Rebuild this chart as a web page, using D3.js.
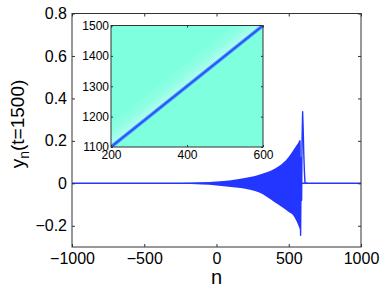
<!DOCTYPE html>
<html>
<head>
<meta charset="utf-8">
<script src="https://cdn.jsdelivr.net/npm/d3@7"></script>
<style>
body { margin: 0; background: #fff; }
text { font-family: "Liberation Sans", Arial, Helvetica, sans-serif; fill: #000; }
</style>
</head>
<body>
<svg id="chart" width="382" height="289"></svg>
<script>
// envelope of the oscillating tail
var envN     = [-1000, -400, -250, -100, 0, 100, 232, 300, 405, 450, 500, 530, 555, 570, 578];
var envUpper = [0, 0, 0.002, 0.005, 0.009, 0.015, 0.03, 0.042, 0.07, 0.09, 0.125, 0.155, 0.18, 0.195, 0.2];
var envLower = [0, 0, -0.002, -0.006, -0.01, -0.017, -0.03, -0.045, -0.09, -0.11, -0.135, -0.15, -0.18, -0.205, -0.22];

// zero level over the whole chain
var baseN = [-1000, 1000];
var baseY = [0, 0];

// leading front
var frontN = [572, 575, 578, 582, 586, 589, 592, 596, 600, 604, 608, 612, 616, 630];
var frontY = [0.18, 0.2, 0.2, -0.245, 0.12, -0.08, 0.2, 0.337, 0.25, 0.14, 0.06, 0.005, 0, 0];

var xTicks = [-1000, -500, 0, 500, 1000];
var yTicks = [-0.2, 0, 0.2, 0.4, 0.6, 0.8];

// inset: front trajectory n(t)
var insetN = [200, 600];
var insetT = [1100, 1500];
var insetXTicks = [200, 400, 600];
var insetYTicks = [1100, 1200, 1300, 1400, 1500];
var stripeOffsets = [7, 12, 17, 22, 27, 33, 39, 46, 54, 63, 73];
var stripeAlpha   = [1, 0.75, 0.7, 0.65, 0.6, 0.55, 0.5, 0.45, 0.4, 0.35, 0.3];

var svg = d3.select("#chart");
var pLeft = 72, pRight = 361, pTop = 13.5, pBottom = 247;

var x = d3.scaleLinear().domain([-1000, 1000]).range([pLeft, pRight]);
var y = d3.scaleLinear().domain([-0.3, 0.8]).range([pBottom, pTop]);

var lineColor = "#2236ff";
var axisColor = "#333";

var line = d3.line()
    .x(function(d) { return x(d[0]); })
    .y(function(d) { return y(d[1]); });

svg.append("path")
    .datum(d3.zip(baseN, baseY))
    .attr("d", line)
    .attr("fill", "none")
    .attr("stroke", lineColor)
    .attr("stroke-width", 1.4);

// filled envelope
var area = d3.area()
    .x(function(d, i) { return x(envN[i]); })
    .y0(function(d, i) { return y(envLower[i]); })
    .y1(function(d, i) { return y(envUpper[i]); })
    .curve(d3.curveMonotoneX);
svg.append("path")
    .datum(envN)
    .attr("d", area)
    .attr("fill", lineColor);

svg.append("path")
    .datum(d3.zip(frontN, frontY))
    .attr("d", line)
    .attr("fill", "none")
    .attr("stroke", lineColor)
    .attr("stroke-width", 1.4)
    .attr("stroke-linejoin", "round");

// axes, ticks point inward
function styleAxis(g) {
    g.select(".domain").remove();
    g.selectAll(".tick line").attr("stroke", axisColor);
    g.selectAll(".tick text").style("font-family", "Liberation Sans, Arial, sans-serif").attr("fill", "#000");
}

svg.append("g")
    .attr("transform", "translate(0," + pBottom + ")")
    .call(d3.axisBottom(x).tickValues(xTicks).tickSize(-3).tickPadding(6)
        .tickFormat(function(d) { return d < 0 ? "\u2212" + Math.abs(d) : d; }))
    .call(styleAxis)
    .selectAll("text").style("font-size", "16px");

svg.append("g")
    .attr("transform", "translate(0," + pTop + ")")
    .call(d3.axisTop(x).tickValues(xTicks).tickSize(-3).tickFormat(""))
    .call(styleAxis);

svg.append("g")
    .attr("transform", "translate(" + pLeft + ",0)")
    .call(d3.axisLeft(y).tickValues(yTicks).tickSize(-3).tickPadding(5)
        .tickFormat(function(d) { return d === 0 ? "0" : (d < 0 ? "\u2212" : "") + Math.abs(d).toFixed(1); }))
    .call(styleAxis)
    .selectAll("text").style("font-size", "16px");

svg.append("g")
    .attr("transform", "translate(" + pRight + ",0)")
    .call(d3.axisRight(y).tickValues(yTicks).tickSize(-3).tickFormat(""))
    .call(styleAxis);

svg.append("rect")
    .attr("x", pLeft).attr("y", pTop)
    .attr("width", pRight - pLeft).attr("height", pBottom - pTop)
    .attr("fill", "none").attr("stroke", axisColor).attr("stroke-width", 1);

svg.append("text")
    .attr("x", (pLeft + pRight) / 2).attr("y", 284)
    .attr("text-anchor", "middle")
    .style("font-size", "20px")
    .text("n");

var yl = svg.append("text")
    .attr("transform", "translate(24,124) rotate(-90)")
    .attr("text-anchor", "middle")
    .style("font-size", "19px");
yl.append("tspan").text("y");
yl.append("tspan").attr("dy", 5).style("font-size", "14px").text("n");
yl.append("tspan").attr("dy", -5).text("(t=1500)");

// inset
var ix0 = 111, ix1 = 263, iy0 = 25.5, iy1 = 147;
var ix = d3.scaleLinear().domain([200, 600]).range([ix0, ix1]);
var iy = d3.scaleLinear().domain([1100, 1500]).range([iy1, iy0]);

var inset = svg.append("g");
inset.append("clipPath").attr("id", "iclip")
    .append("rect").attr("x", ix0).attr("y", iy0).attr("width", ix1 - ix0).attr("height", iy1 - iy0);
inset.append("rect")
    .attr("x", ix0).attr("y", iy0)
    .attr("width", ix1 - ix0).attr("height", iy1 - iy0)
    .attr("fill", "#7effdd");

var pg = inset.append("g").attr("clip-path", "url(#iclip)");
pg.selectAll(".stripe")
    .data(stripeOffsets)
    .enter().append("line")
    .attr("class", "stripe")
    .attr("x1", function(d) { return ix(insetN[0] - d); })
    .attr("y1", iy(insetT[0]))
    .attr("x2", function(d) { return ix(insetN[1] - d); })
    .attr("y2", iy(insetT[1]))
    .attr("stroke", "#d8fbff")
    .attr("stroke-width", 1)
    .attr("stroke-opacity", function(d, i) { return stripeAlpha[i]; });

pg.append("line")
    .attr("x1", ix(insetN[0])).attr("y1", iy(insetT[0]))
    .attr("x2", ix(insetN[1])).attr("y2", iy(insetT[1]))
    .attr("stroke", "#5fb8ff").attr("stroke-width", 4);
pg.append("line")
    .attr("x1", ix(insetN[0])).attr("y1", iy(insetT[0]))
    .attr("x2", ix(insetN[1])).attr("y2", iy(insetT[1]))
    .attr("stroke", "#2a5af5").attr("stroke-width", 2.2);

inset.append("g")
    .attr("transform", "translate(0," + iy1 + ")")
    .call(d3.axisBottom(ix).tickValues(insetXTicks).tickSize(-2).tickPadding(3).tickFormat(d3.format("d")))
    .call(styleAxis)
    .selectAll("text").style("font-size", "12px");
inset.append("g")
    .attr("transform", "translate(0," + iy0 + ")")
    .call(d3.axisTop(ix).tickValues(insetXTicks).tickSize(-2).tickFormat(""))
    .call(styleAxis);
inset.append("g")
    .attr("transform", "translate(" + ix0 + ",0)")
    .call(d3.axisLeft(iy).tickValues(insetYTicks).tickSize(-2).tickPadding(2).tickFormat(d3.format("d")))
    .call(styleAxis)
    .selectAll("text").style("font-size", "12px");
inset.append("g")
    .attr("transform", "translate(" + ix1 + ",0)")
    .call(d3.axisRight(iy).tickValues(insetYTicks).tickSize(-2).tickFormat(""))
    .call(styleAxis);
inset.append("rect")
    .attr("x", ix0).attr("y", iy0)
    .attr("width", ix1 - ix0).attr("height", iy1 - iy0)
    .attr("fill", "none").attr("stroke", axisColor).attr("stroke-width", 1);
</script>
</body>
</html>
